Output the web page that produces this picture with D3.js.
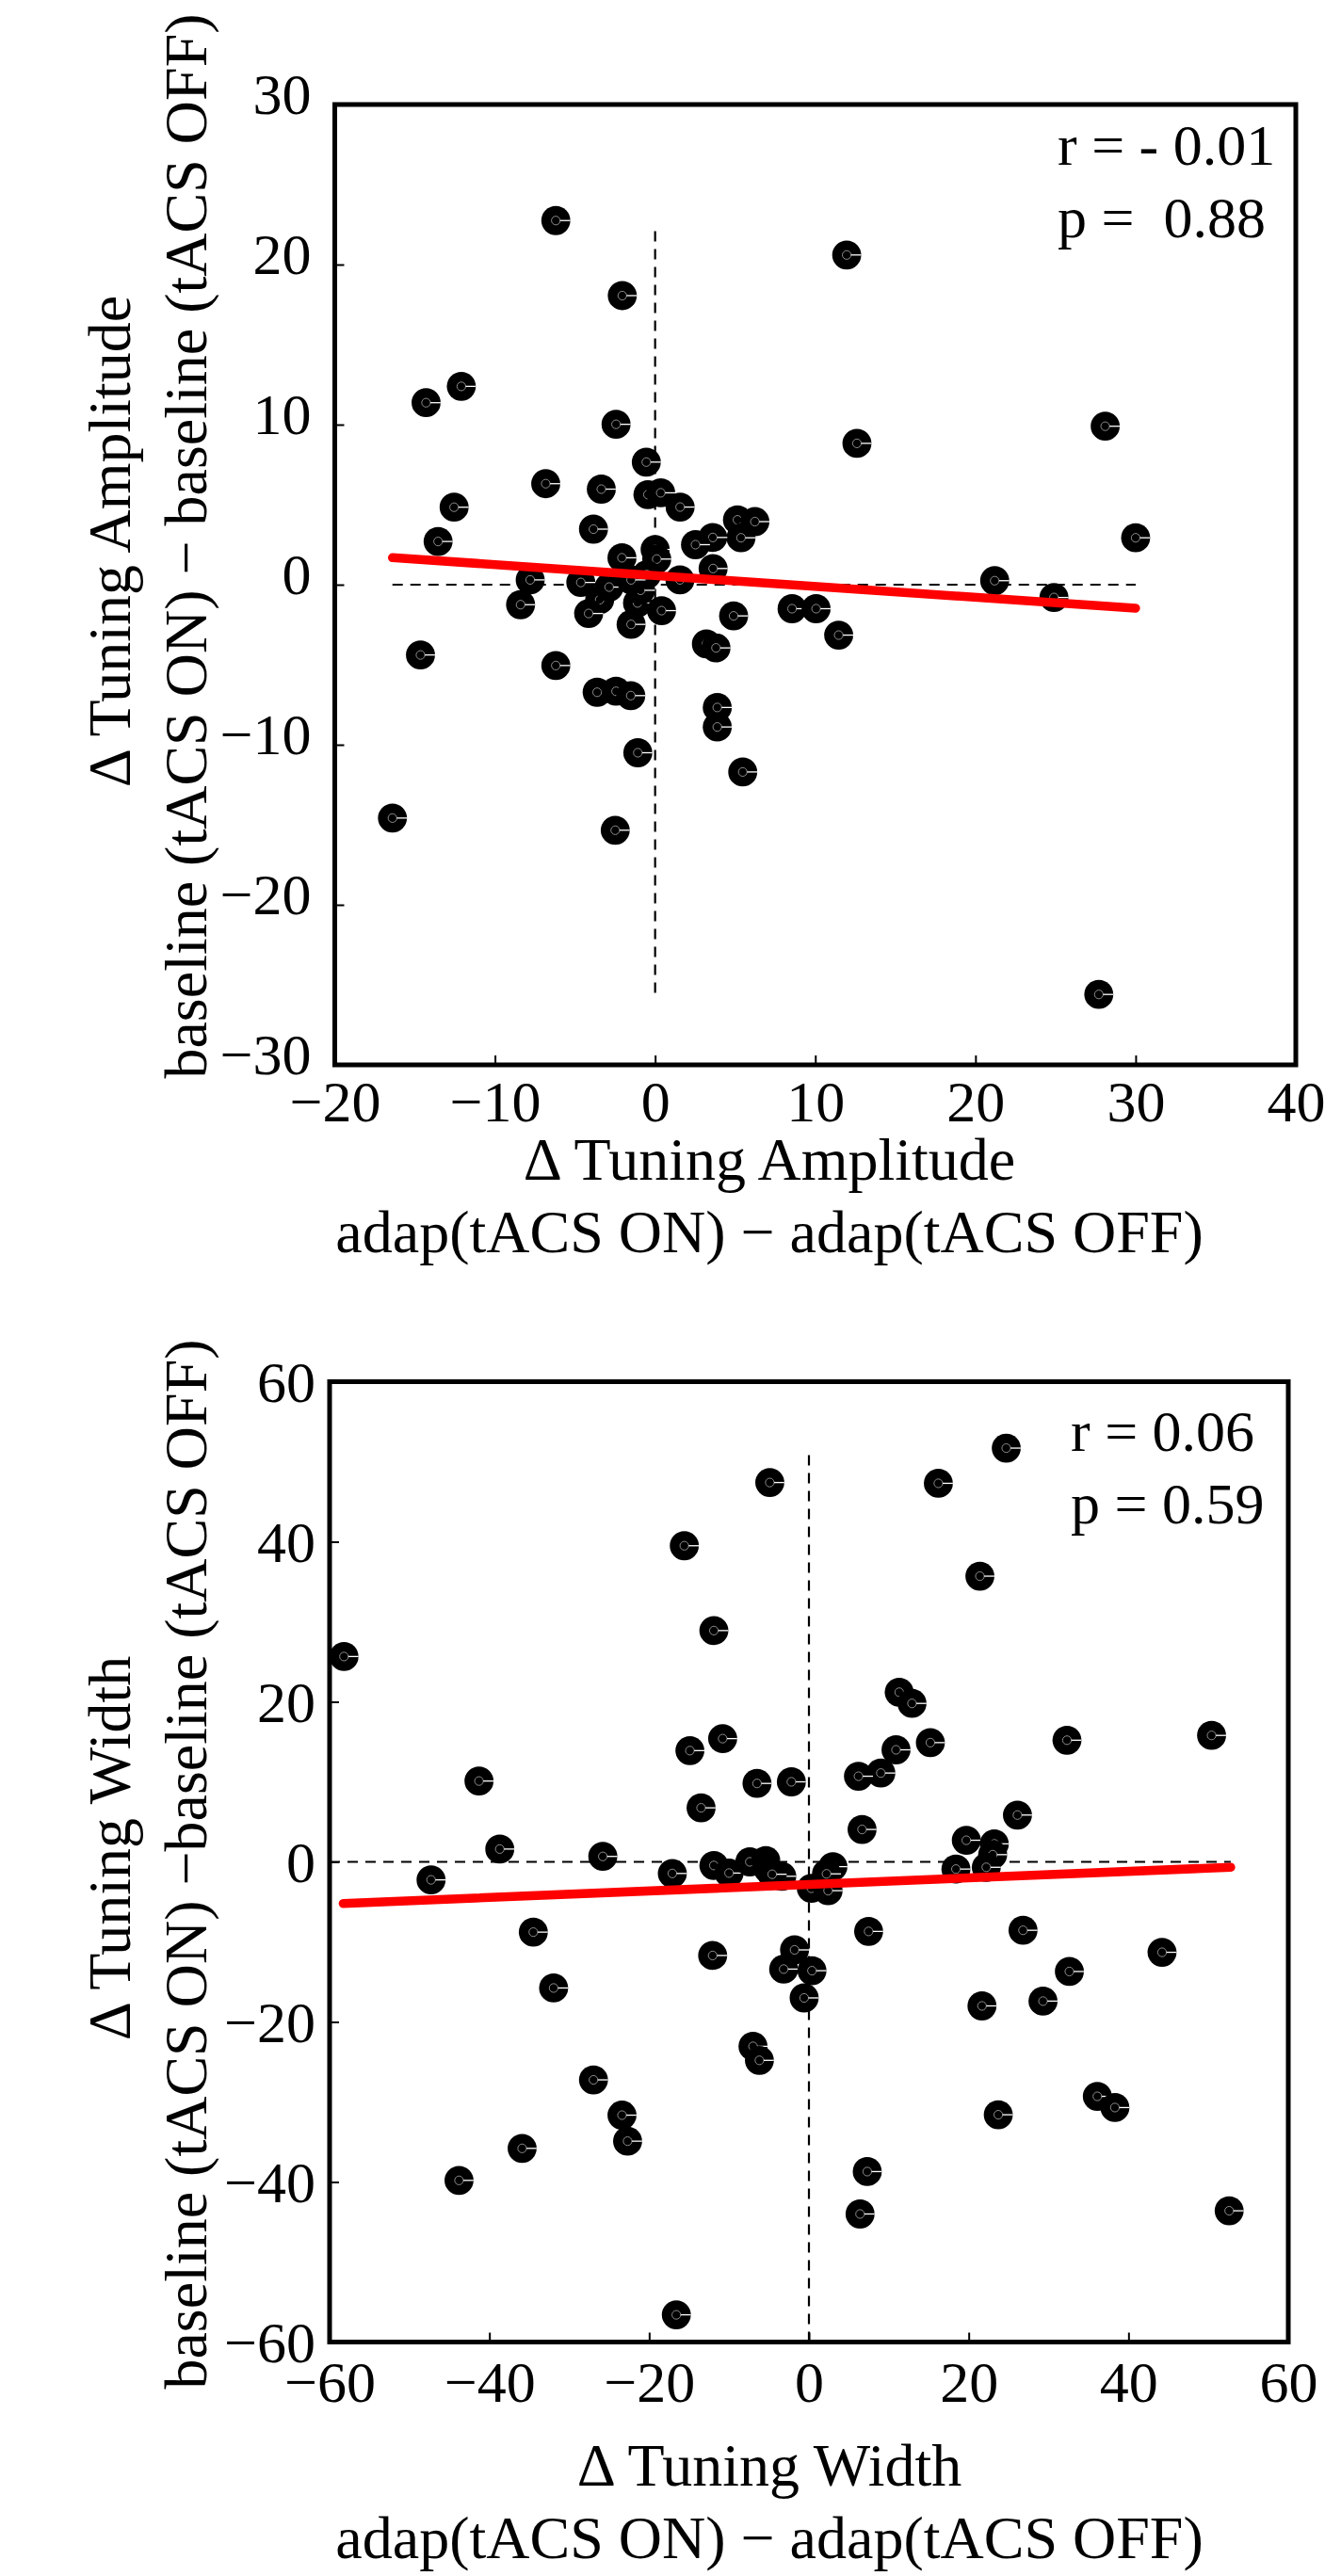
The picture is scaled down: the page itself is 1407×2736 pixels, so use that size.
<!DOCTYPE html>
<html><head><meta charset="utf-8">
<script src="https://cdn.jsdelivr.net/npm/d3@7"></script>
<style>
body{margin:0;background:#fff}
text{font-family:"Liberation Serif","Times New Roman",serif;fill:#000}
</style>
</head><body>
<svg id="chart" width="1407" height="2736" xmlns="http://www.w3.org/2000/svg"></svg>
<script>
// ---------- Data: panel A (Tuning Amplitude) ----------
const ampX = [-6.2,-2.05,11.96,-14.3,-12.1,-2.44,12.6,28.1,30.0,-0.55,-6.83,-3.36,-0.45,0.35,1.56,-12.55,-3.85,5.14,6.23,5.36,3.6,2.52,-13.55,-2.07,3.62,0.0,0.1,1.55,-7.8,-8.4,-4.64,-3.46,-2.87,-1.1,-0.91,-0.52,-1.5,-4.15,-1.5,0.4,4.9,8.55,10.05,11.46,3.2,3.8,21.2,24.9,-14.65,-6.2,-3.62,-2.44,-1.52,3.88,3.88,-1.08,5.47,-16.4,-2.49,27.7];
const ampY = [22.75,18.06,20.6,11.37,12.39,10.02,8.83,9.9,2.93,7.66,6.31,5.97,5.63,5.74,4.85,4.84,3.47,4.05,3.94,2.93,2.95,2.5,2.7,1.68,1.01,2.2,1.6,0.3,0.3,-1.25,0.14,-0.94,-0.15,-1.14,-0.35,0.63,0.3,-1.8,-2.48,-1.62,-1.95,-1.5,-1.5,-3.15,-3.7,-3.95,0.25,-0.8,-4.39,-5.05,-6.72,-6.66,-6.93,-7.67,-8.89,-10.5,-11.7,-14.58,-15.34,-25.6];
const ampFitX = [-16.4, 30.0];
const ampFitY = [1.69, -1.47];
const ampZeroX = [-16.4, 30.0];   // extent of dashed y=0 line
const ampZeroY = [-25.5, 22.3];   // extent of dashed x=0 line
const ampXTicks = [-20,-10,0,10,20,30,40];
const ampYTicks = [-30,-20,-10,0,10,20,30];
const ampStats = ["r = - 0.01", "p =  0.88"];
const ampXTitle = ["\u0394 Tuning Amplitude", "adap(tACS ON) \u2212 adap(tACS OFF)"];
const ampYTitle = ["\u0394 Tuning Amplitude", "baseline (tACS ON) \u2212 baseline (tACS OFF)"];

// ---------- Data: panel B (Tuning Width) ----------
const widX = [-58.2,-41.3,-38.7,-25.8,-47.3,-34.5,-31.96,-26.97,-23.4,-22.7,-35.9,-43.8,24.7,-4.9,16.2,-15.6,21.4,-11.9,11.3,12.9,32.3,50.4,-14.9,-10.8,10.9,15.2,9.0,6.2,-6.5,-2.2,-13.5,6.65,26.1,19.7,23.2,23.0,22.2,18.4,-17.1,-11.9,-10.0,-7.4,-5.4,-5.1,-3.4,-4.6,0.3,2.4,3.0,2.2,7.47,26.8,-12.05,-1.8,-3.16,0.38,-0.6,21.66,29.3,32.6,44.2,-7.0,-6.2,23.7,36.1,38.3,7.3,6.4,52.6,-16.6];
const widY = [25.66,10.1,1.6,0.68,-2.25,-8.78,-15.76,-27.24,-31.65,-34.9,-35.8,-39.8,51.7,47.4,47.3,39.5,35.7,28.9,21.2,19.8,15.2,15.8,13.9,15.4,14.0,14.9,11.1,10.7,9.8,10.0,6.75,4.05,5.85,2.7,2.25,0.9,-0.68,-0.9,-1.45,-0.45,-1.4,0.0,0.15,-0.9,-1.8,-1.55,-3.3,-3.6,-0.6,-1.5,-8.69,-8.55,-11.7,-11.0,-13.4,-13.6,-17.0,-18.0,-17.4,-13.7,-11.3,-23.05,-24.8,-31.6,-29.3,-30.7,-38.7,-44.0,-43.6,-56.6];
const widFitX = [-58.3, 52.8];
const widFitY = [-5.2, -0.67];
const widZeroX = [-60, 52.8];
const widZeroY = [-60, 51.7];
const widXTicks = [-60,-40,-20,0,20,40,60];
const widYTicks = [-60,-40,-20,0,20,40,60];
const widStats = ["r = 0.06", "p = 0.59"];
const widXTitle = ["\u0394 Tuning Width", "adap(tACS ON) \u2212 adap(tACS OFF)"];
const widYTitle = ["\u0394 Tuning Width", "baseline (tACS ON) \u2212baseline (tACS OFF)"];

const svg = d3.select("#chart");

function panel(o) {
  const x = d3.scaleLinear().domain(o.xDomain).range([o.left, o.right]);
  const y = d3.scaleLinear().domain(o.yDomain).range([o.bottom, o.top]);
  const g = svg.append("g");

  // dashed zero lines
  g.append("line").attr("x1", x(o.zeroX[0])).attr("x2", x(o.zeroX[1]))
    .attr("y1", y(0)).attr("y2", y(0))
    .attr("stroke", "#000").attr("stroke-width", 2.2).attr("stroke-dasharray", "11,8");
  g.append("line").attr("x1", x(0)).attr("x2", x(0))
    .attr("y1", y(o.zeroY[0])).attr("y2", y(o.zeroY[1]))
    .attr("stroke", "#000").attr("stroke-width", 2.2).attr("stroke-dasharray", "11,8");

  // points
  const pts = o.xs.map((v, i) => [v, o.ys[i]]);
  const m = g.append("g").selectAll("g").data(pts).join("g")
    .attr("transform", d => `translate(${x(d[0])},${y(d[1])})`);
  m.append("circle").attr("r", 15.4).attr("fill", "#000");
  m.append("circle").attr("r", 4.6).attr("fill", "none").attr("stroke", "#8c8c8c").attr("stroke-width", 1);
  m.append("line").attr("x1", 4.6).attr("x2", 15.4).attr("y1", 0).attr("y2", 0)
    .attr("stroke", "#fff").attr("stroke-width", 1.3);

  // regression line
  g.append("line").attr("x1", x(o.fitX[0])).attr("y1", y(o.fitY[0]))
    .attr("x2", x(o.fitX[1])).attr("y2", y(o.fitY[1]))
    .attr("stroke", "#ff0000").attr("stroke-width", 9.5).attr("stroke-linecap", "round");

  // axes (inward ticks)
  const fmt = d => (d < 0 ? "\u2212" + Math.abs(d) : String(d));
  const ax = g.append("g").attr("transform", `translate(0,${o.bottom})`)
    .call(d3.axisBottom(x).tickValues(o.xTicks).tickFormat(fmt).tickSizeInner(-10).tickSizeOuter(0));
  ax.select(".domain").remove();
  ax.selectAll(".tick line").attr("stroke", "#000").attr("stroke-width", 2);
  ax.selectAll(".tick text").attr("y", o.xLabelDy).attr("dy", null)
    .attr("font-size", 62).attr("text-anchor", "middle")
    .style("font-family", '"Liberation Serif","Times New Roman",serif').attr("fill", "#000");

  const ay = g.append("g").attr("transform", `translate(${o.left},0)`)
    .call(d3.axisLeft(y).tickValues(o.yTicks).tickFormat(fmt).tickSizeInner(-10).tickSizeOuter(0));
  ay.select(".domain").remove();
  ay.selectAll(".tick line").attr("stroke", "#000").attr("stroke-width", 2);
  ay.selectAll(".tick text").attr("x", -o.yLabelGap).attr("dy", null).attr("y", o.yLabelDy)
    .attr("font-size", 62).attr("text-anchor", "end")
    .style("font-family", '"Liberation Serif","Times New Roman",serif').attr("fill", "#000");

  // frame
  g.append("rect").attr("x", o.left).attr("y", o.top)
    .attr("width", o.right - o.left).attr("height", o.bottom - o.top)
    .attr("fill", "none").attr("stroke", "#000").attr("stroke-width", 5);

  // stats
  o.stats.forEach((s, i) => {
    g.append("text").attr("x", o.statX).attr("y", o.statY[i])
      .attr("font-size", 62).style("white-space", "pre").text(s);
  });

  // x title
  o.xTitle.forEach((s, i) => {
    g.append("text").attr("x", o.xTitleX).attr("y", o.xTitleY[i])
      .attr("text-anchor", "middle").attr("font-size", 64).text(s);
  });
  // y title
  o.yTitle.forEach((s, i) => {
    g.append("text").attr("transform", `translate(${o.yTitleX[i]},${o.yTitleY[i]}) rotate(-90)`)
      .attr("text-anchor", "middle").attr("font-size", 64).text(s);
  });
}

panel({
  xs: ampX, ys: ampY, fitX: ampFitX, fitY: ampFitY, zeroX: ampZeroX, zeroY: ampZeroY,
  xDomain: [-20, 40], yDomain: [-30, 30], xTicks: ampXTicks, yTicks: ampYTicks,
  left: 355.5, right: 1376, top: 111, bottom: 1131,
  xLabelDy: 60, yLabelGap: 25, yLabelDy: 9,
  stats: ampStats, statX: 1123, statY: [175, 252],
  xTitle: ampXTitle, xTitleX: 817, xTitleY: [1253, 1330],
  yTitle: ampYTitle, yTitleX: [138, 219], yTitleY: [575, 580]
});

panel({
  xs: widX, ys: widY, fitX: widFitX, fitY: widFitY, zeroX: widZeroX, zeroY: widZeroY,
  xDomain: [-60, 60], yDomain: [-60, 60], xTicks: widXTicks, yTicks: widYTicks,
  left: 350, right: 1368, top: 1467.5, bottom: 2487.5,
  xLabelDy: 63, yLabelGap: 15, yLabelDy: 21,
  stats: widStats, statX: 1137, statY: [1541, 1618],
  xTitle: widXTitle, xTitleX: 817, xTitleY: [2640, 2717],
  yTitle: widYTitle, yTitleX: [138, 219], yTitleY: [1963, 1980]
});
</script>
</body></html>
